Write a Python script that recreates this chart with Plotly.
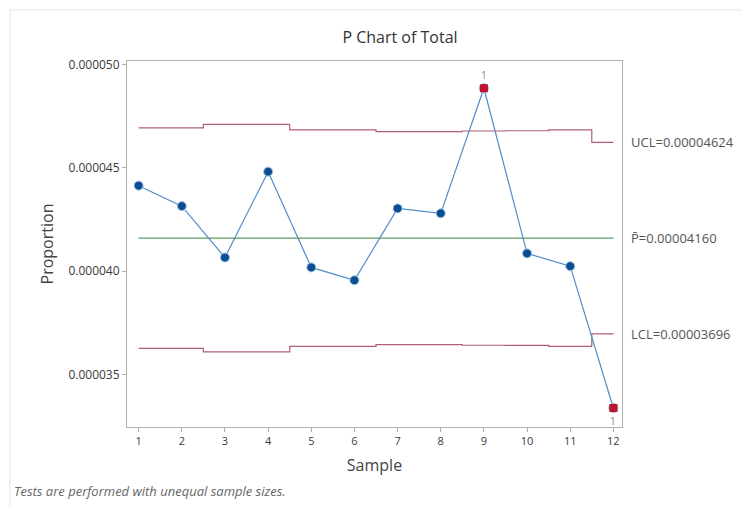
import plotly.graph_objects as go

samples = [1, 2, 3, 4, 5, 6, 7, 8, 9, 10, 11, 12]
proportion = [4.414e-5, 4.315e-5, 4.066e-5, 4.482e-5, 4.018e-5, 3.956e-5,
              4.304e-5, 4.280e-5, 4.886e-5, 4.086e-5, 4.024e-5, 3.337e-5]
ucl = [4.694e-5, 4.694e-5, 4.711e-5, 4.711e-5, 4.684e-5, 4.684e-5,
       4.676e-5, 4.676e-5, 4.679e-5, 4.680e-5, 4.684e-5, 4.624e-5]
lcl = [3.626e-5, 3.626e-5, 3.609e-5, 3.609e-5, 3.636e-5, 3.636e-5,
       3.644e-5, 3.644e-5, 3.641e-5, 3.640e-5, 3.636e-5, 3.696e-5]
pbar = 4.160e-5
ytick_vals = [3.5e-5, 4.0e-5, 4.5e-5, 5.0e-5]
ytick_text = ["0.000035", "0.000040", "0.000045", "0.000050"]

FONT = "Open Sans"
TXT = "#3a3a3a"

# plot area in figure pixels (page is offset by the 8px body margin)
L, T, PW, PH = 119, 53, 495, 366
W, H = 750, 506

fig = go.Figure()

fig.add_trace(go.Scatter(x=samples, y=ucl, mode="lines", line=dict(color="#b06070", width=1.2, shape="hvh"),
                         hoverinfo="skip", showlegend=False))
fig.add_trace(go.Scatter(x=samples, y=lcl, mode="lines", line=dict(color="#b06070", width=1.2, shape="hvh"),
                         hoverinfo="skip", showlegend=False))
fig.add_trace(go.Scatter(x=[samples[0], samples[-1]], y=[pbar, pbar], mode="lines",
                         line=dict(color="#5f9a5f", width=1.2), hoverinfo="skip", showlegend=False))

fig.add_trace(go.Scatter(x=samples, y=proportion, mode="lines+markers",
                         line=dict(color="#4f8ccb", width=1.2),
                         marker=dict(color="#0d4e91", size=9, line=dict(color="#9cc3ea", width=1)),
                         showlegend=False))

out_x = [s for s, p, u, l in zip(samples, proportion, ucl, lcl) if p > u or p < l]
out_y = [p for p, u, l in zip(proportion, ucl, lcl) if p > u or p < l]
fig.add_trace(go.Scatter(x=out_x, y=out_y, mode="markers",
                         marker=dict(color="#c0142c", size=8, symbol="square"),
                         showlegend=False))

for x, y in zip(out_x, out_y):
    above = y > ucl[x - 1]
    fig.add_annotation(x=x, y=y, text="1", showarrow=False, yshift=13 if above else -13,
                       font=dict(family=FONT, size=10, color="#888888"))

labels = [("UCL=0.00004624", ucl[-1]), ("P\u0304=0.00004160", pbar), ("LCL=0.00003696", lcl[-1])]
for text, yv in labels:
    fig.add_annotation(x=1.0, xref="paper", y=yv, yref="y", text=text, showarrow=False,
                       xanchor="left", xshift=7, font=dict(family=FONT, size=13, color="#555555"))

fig.add_annotation(x=(4 - L) / PW, xref="paper", y=(T + PH - 483) / PH, yref="paper",
                   text="<i>Tests are performed with unequal sample sizes.</i>", showarrow=False,
                   xanchor="left", yanchor="middle", font=dict(family=FONT, size=13, color="#666666"))

fig.update_layout(
    width=W, height=H,
    margin=dict(l=L, r=W - L - PW, t=T, b=H - T - PH),
    paper_bgcolor="white", plot_bgcolor="white",
    font=dict(family=FONT, color=TXT),
    title=dict(text="P Chart of Total", x=392 / W, xanchor="center", y=1 - 29 / H, yanchor="middle",
               font=dict(family=FONT, size=16, color="#333333")),
    xaxis=dict(range=[0.73, 12.2], tickvals=samples, ticktext=[str(s) for s in samples],
               showgrid=False, zeroline=False, showline=True, linecolor="#b0b0b0", mirror=True,
               ticks="outside", ticklen=4, tickcolor="#b0b0b0", tickfont=dict(size=11, color=TXT),
               title=dict(text="Sample", font=dict(size=16, color="#444444"), standoff=12)),
    yaxis=dict(range=[3.245e-5, 5.018e-5], tickvals=ytick_vals, ticktext=ytick_text,
               showgrid=False, zeroline=False, showline=True, linecolor="#b0b0b0", mirror=True,
               ticks="outside", ticklen=4, tickcolor="#b0b0b0", tickfont=dict(size=12, color=TXT),
               title=dict(text="Proportion", font=dict(size=16, color="#444444"), standoff=10)),
    shapes=[dict(type="rect", xref="paper", yref="paper",
                 x0=(2 - L) / PW, x1=(W + 20 - L) / PW, y0=(T + PH - (H + 20)) / PH, y1=(T + PH - 2) / PH,
                 line=dict(color="#e4e4e4", width=1), fillcolor="rgba(0,0,0,0)", layer="below")],
)

fig.write_html("out.html")
